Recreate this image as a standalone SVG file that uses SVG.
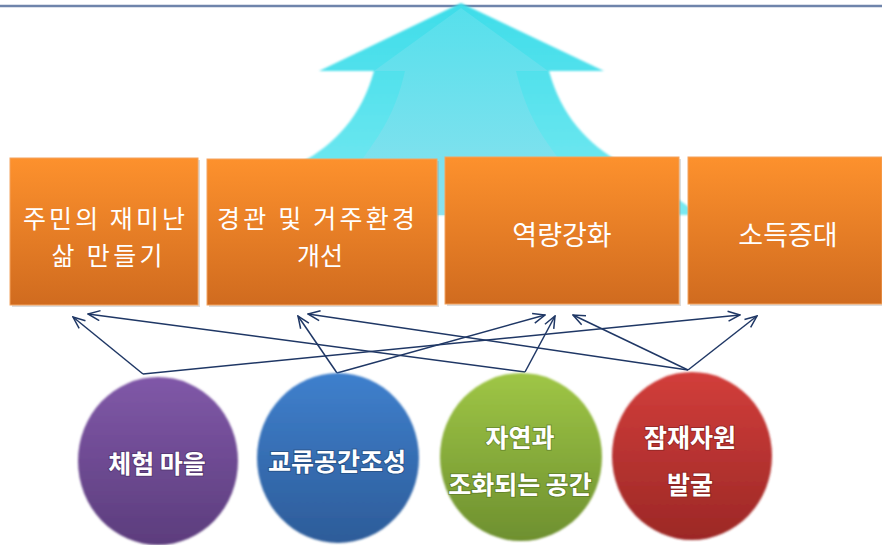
<svg xmlns="http://www.w3.org/2000/svg" width="882" height="545" viewBox="0 0 882 545">
  <defs>
    <linearGradient id="gBox" x1="0" y1="0" x2="0" y2="1">
      <stop offset="0" stop-color="#fd912d"/>
      <stop offset="1" stop-color="#d06b1f"/>
    </linearGradient>
    <linearGradient id="gArrow" x1="0" y1="0" x2="0" y2="1">
      <stop offset="0" stop-color="#3edde9"/>
      <stop offset="1" stop-color="#7ae9f2"/>
    </linearGradient>
    <linearGradient id="gInner" x1="0" y1="0" x2="0" y2="1">
      <stop offset="0" stop-color="#5ae0ec"/>
      <stop offset="1" stop-color="#8ee0ee"/>
    </linearGradient>
    <linearGradient id="gPurple" x1="0" y1="0" x2="0" y2="1">
      <stop offset="0" stop-color="#8058a8"/>
      <stop offset="1" stop-color="#5c3d7d"/>
    </linearGradient>
    <linearGradient id="gBlue" x1="0" y1="0" x2="0" y2="1">
      <stop offset="0" stop-color="#3f80cd"/>
      <stop offset="1" stop-color="#2d5c99"/>
    </linearGradient>
    <linearGradient id="gGreen" x1="0" y1="0" x2="0" y2="1">
      <stop offset="0" stop-color="#9fc646"/>
      <stop offset="1" stop-color="#6e902f"/>
    </linearGradient>
    <linearGradient id="gRed" x1="0" y1="0" x2="0" y2="1">
      <stop offset="0" stop-color="#d23e3b"/>
      <stop offset="1" stop-color="#9c2826"/>
    </linearGradient>
    <filter id="soft" x="-10%" y="-10%" width="120%" height="120%">
      <feGaussianBlur stdDeviation="1"/>
    </filter>
    <marker id="arr" markerUnits="userSpaceOnUse" markerWidth="14" markerHeight="12" viewBox="0 0 14 12" refX="13" refY="6" orient="auto">
      <path d="M1,1 L13,6 L1,11" fill="none" stroke="#1f3765" stroke-width="1.5"/>
    </marker>
  </defs>
  <style>
    .box { fill: url(#gBox); stroke: #f3a461; stroke-width: 1; }
    .shadow { fill: #9a9a9a; opacity: 0.35; }
    .btxt { font-family: "Noto Sans CJK KR", "Noto Sans", sans-serif; font-size: 25px; fill: #ffffff; text-anchor: middle; }
    .big { font-size: 27px; }
    .ctxt { font-family: "Noto Sans CJK KR", "Noto Sans", sans-serif; font-size: 25px; font-weight: bold; fill: #ffffff; text-anchor: middle; paint-order: stroke; stroke-width: 2; stroke-opacity: 0.45; }
    .conn { fill: none; stroke: #1f3765; stroke-width: 1.5; marker-end: url(#arr); }
  </style>

  <rect width="882" height="545" fill="#ffffff"/>

  <!-- top rule -->
  <line x1="0" y1="6" x2="882" y2="6" stroke="#6f84ab" stroke-width="2.5"/>

  <!-- big background arrow -->
  <g id="bigArrow">
    <path d="M461,3 L604,71 L549,71 C561,115 588,145 622,163 S672,195 700,215 L222,215 C250,195 276,178 300,163 C335,145 362,115 374,71 L319,71 Z" fill="url(#gArrow)" filter="url(#soft)"/>
    <path d="M461,8 L548,71 L516,71 C528,120 545,140 562,163 L585,215 L337,215 L360,163 C375,140 394,120 405,71 L374,71 Z" fill="url(#gInner)" opacity="0.85"/>
  </g>

  <!-- boxes -->
  <g id="box1">
    <rect class="shadow" x="12" y="160" width="188" height="147"/>
    <rect class="box" x="10" y="158" width="188" height="147"/>
    <text class="btxt" x="104" y="228" textLength="162" lengthAdjust="spacing">주민의 재미난</text>
    <text class="btxt" x="107" y="264.5" textLength="111" lengthAdjust="spacing">삶 만들기</text>
  </g>
  <g id="box2">
    <rect class="shadow" x="209" y="161" width="230" height="146"/>
    <rect class="box" x="207" y="159" width="230" height="146"/>
    <text class="btxt" x="316" y="228" textLength="198" lengthAdjust="spacing">경관 및 거주환경</text>
    <text class="btxt" x="320" y="264.5">개선</text>
  </g>
  <g id="box3">
    <rect class="shadow" x="447" y="159" width="234" height="147"/>
    <rect class="box" x="445" y="157" width="234" height="147"/>
    <text class="btxt big" x="562" y="245">역량강화</text>
  </g>
  <g id="box4">
    <rect class="shadow" x="690" y="159" width="194" height="147"/>
    <rect class="box" x="688" y="157" width="194" height="147"/>
    <text class="btxt big" x="788" y="245">소득증대</text>
  </g>

  <!-- connectors -->
  <g id="connectors">
    <line class="conn" x1="143" y1="374" x2="73" y2="317"/>
    <line class="conn" x1="143" y1="374" x2="740" y2="315"/>
    <line class="conn" x1="337" y1="373" x2="298" y2="316"/>
    <line class="conn" x1="337" y1="373" x2="545" y2="315"/>
    <line class="conn" x1="525" y1="372" x2="88" y2="314"/>
    <line class="conn" x1="525" y1="372" x2="555" y2="316"/>
    <line class="conn" x1="688" y1="370" x2="308" y2="314"/>
    <line class="conn" x1="688" y1="370" x2="573" y2="315"/>
    <line class="conn" x1="688" y1="370" x2="757" y2="316"/>
  </g>

  <!-- circles -->
  <g id="c1">
    <ellipse cx="158" cy="461" rx="80" ry="84" fill="url(#gPurple)" filter="url(#soft)"/>
    <text class="ctxt" x="157" y="473" stroke="#3a2550">체험 마을</text>
  </g>
  <g id="c2">
    <ellipse cx="338" cy="458" rx="81" ry="85" fill="url(#gBlue)" filter="url(#soft)"/>
    <text class="ctxt" x="337" y="471" stroke="#1d3a60">교류공간조성</text>
  </g>
  <g id="c3">
    <ellipse cx="521" cy="457" rx="81" ry="84" fill="url(#gGreen)" filter="url(#soft)"/>
    <text class="ctxt" x="520" y="447" stroke="#4a6420">자연과</text>
    <text class="ctxt" x="520" y="494" stroke="#4a6420">조화되는 공간</text>
  </g>
  <g id="c4">
    <ellipse cx="692" cy="456" rx="80" ry="84" fill="url(#gRed)" filter="url(#soft)"/>
    <text class="ctxt" x="690" y="447" stroke="#6a1a18">잠재자원</text>
    <text class="ctxt" x="690" y="494" stroke="#6a1a18">발굴</text>
  </g>
</svg>
